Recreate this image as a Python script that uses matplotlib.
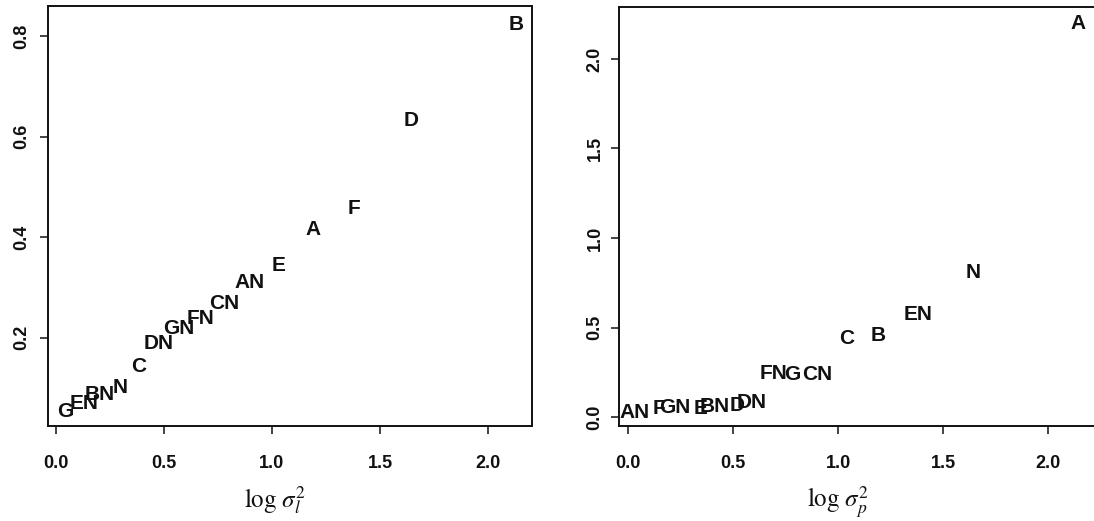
import matplotlib
matplotlib.use("Agg")
import matplotlib.pyplot as plt

# Left panel data
left_labels = ["G", "EN", "BN", "N", "C", "DN", "GN", "FN", "CN", "AN", "E", "A", "F", "D", "B"]
left_x = [0.042, 0.13, 0.204, 0.296, 0.384, 0.477, 0.57, 0.67, 0.78, 0.898, 1.03, 1.19, 1.38, 1.645, 2.13]
left_y = [0.052, 0.068, 0.086, 0.10, 0.142, 0.189, 0.219, 0.238, 0.268, 0.31, 0.344, 0.415, 0.457, 0.633, 0.824]

# Right panel data
right_labels = ["AN", "F", "GN", "E", "BN", "D", "DN", "FN", "G", "CN", "C", "B", "EN", "N", "A"]
right_x = [0.033, 0.148, 0.224, 0.343, 0.414, 0.519, 0.59, 0.69, 0.78, 0.90, 1.04, 1.19, 1.38, 1.64, 2.14]
right_y = [0.028, 0.05, 0.056, 0.05, 0.061, 0.067, 0.084, 0.245, 0.235, 0.24, 0.436, 0.453, 0.575, 0.81, 2.2]

left_xticks = [0.0, 0.5, 1.0, 1.5, 2.0]
left_yticks = [0.2, 0.4, 0.6, 0.8]
right_xticks = [0.0, 0.5, 1.0, 1.5, 2.0]
right_yticks = [0.0, 0.5, 1.0, 1.5, 2.0]

plt.rcParams['mathtext.fontset'] = 'stix'
sans = ['Liberation Sans', 'DejaVu Sans']

fig = plt.figure(figsize=(10.94, 5.21), dpi=100)
W, H = 1094, 521

def px_axes(l, t, r, b):
    return fig.add_axes([l / W, (H - b) / H, (r - l) / W, (b - t) / H])

ax1 = px_axes(48, 6, 532, 426)
ax2 = px_axes(619, 7, 1101, 426)

def style(ax, xticks, yticks, xlim, ylim, xlabel, ypad, xlabel_pos):
    ax.set_xlim(*xlim)
    ax.set_ylim(*ylim)
    ax.set_xticks(xticks)
    ax.set_yticks(yticks)
    ax.set_xticklabels([f"{v:.1f}" for v in xticks], family=sans, fontsize=13, fontweight='bold')
    ax.set_yticklabels([f"{v:.1f}" for v in yticks], family=sans, fontsize=13, fontweight='bold',
                       rotation=90, va='center')
    ax.tick_params(axis='x', direction='out', length=6, width=1.1, pad=15, colors='#111111')
    ax.tick_params(axis='y', direction='out', length=6, width=1.1, pad=ypad, colors='#111111')
    for s in ax.spines.values():
        s.set_linewidth(1.4)
        s.set_color('#111111')
    ax.set_xlabel(xlabel, fontsize=18, color='#111111')
    ax.xaxis.set_label_coords(xlabel_pos, -0.138)

style(ax1, left_xticks, left_yticks, (-0.037, 2.204), (0.024, 0.86), r'$\log\,\sigma_l^2$', 7, 0.469)
style(ax2, right_xticks, right_yticks, (-0.043, 2.25), (-0.05, 2.29), r'$\log\,\sigma_p^2$', 5, 0.454)

for lab, x, y in zip(left_labels, left_x, left_y):
    ax1.text(x, y, lab, ha='center', va='center', family=sans, fontsize=15,
             fontweight='bold', color='#111111')
for lab, x, y in zip(right_labels, right_x, right_y):
    ax2.text(x, y, lab, ha='center', va='center', family=sans, fontsize=15,
             fontweight='bold', color='#111111')

fig.savefig("out.png", dpi=100)
